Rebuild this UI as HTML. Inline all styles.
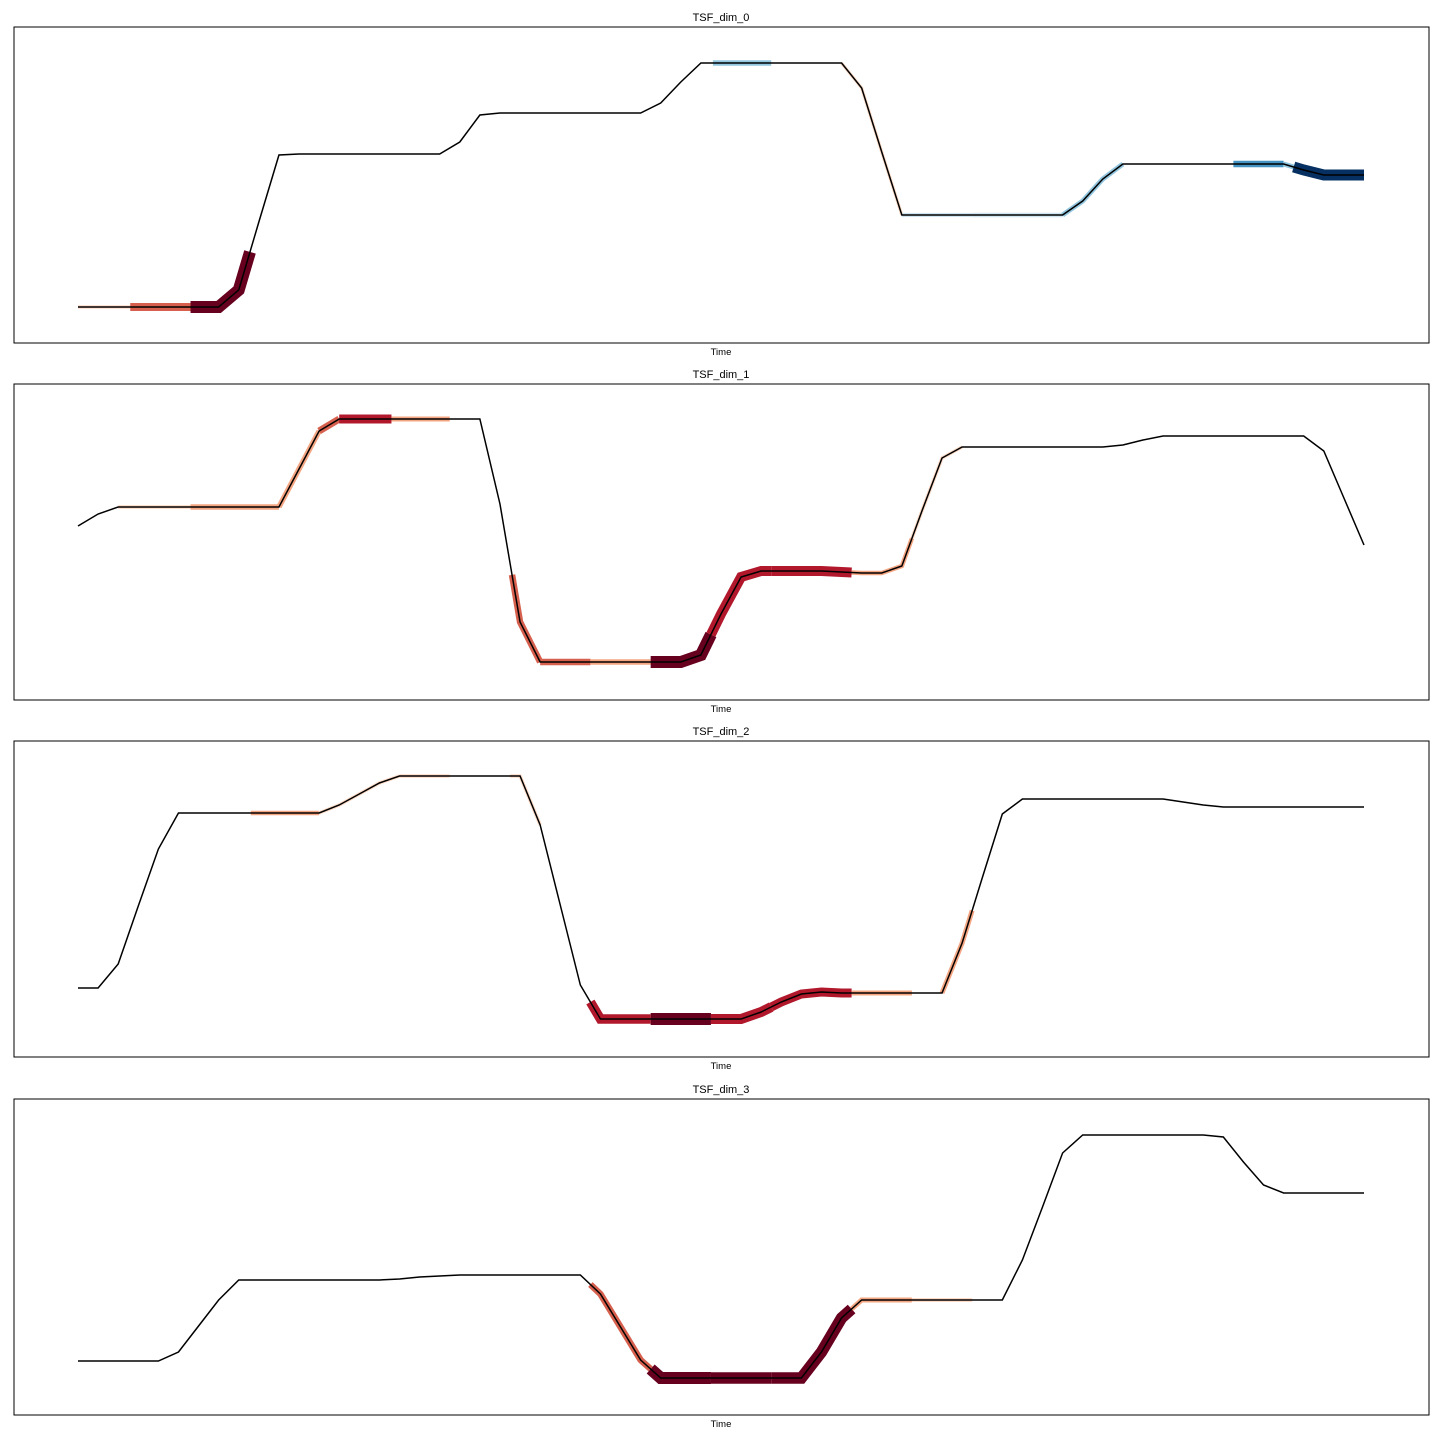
<!DOCTYPE html>
<html><head><meta charset="utf-8">
<style>
html,body{margin:0;padding:0;background:#fff;}
svg{display:block;font-family:"Liberation Sans","DejaVu Sans",sans-serif;}
</style></head>
<body>
<svg id="chart" width="1440" height="1440" viewBox="0 0 1440 1440" xmlns="http://www.w3.org/2000/svg"></svg>
<script>
const titles = ["TSF_dim_0","TSF_dim_1","TSF_dim_2","TSF_dim_3"];
const series0 = [36,36,36,36,36,36,36,36,53,121,188,189,189,189,189,189,189,189,189,201,228,230,230,230,230,230,230,230,230,240,261,280,280,280,280,280,280,280,280,255,191,128,128,128,128,128,128,128,128,128,142,164,179,179,179,179,179,179,179,179,179,173,168,168,168];
const series1 = [174,186,193,193,193,193,193,193,193,193,193,231,269,281,281,281,281,281,281,281,281,196,78,38,38,38,38,38,38,38,38,45,86,123,129,129,129,129,128,127,127,134,189,242,253,253,253,253,253,253,253,253,255,260,264,264,264,264,264,264,264,264,249,202,155];
const series2 = [69,69,93,151,208,244,244,244,244,244,244,244,244,252,263,274,281,281,281,281,281,281,281,232,152,72,38,38,38,38,38,38,38,38,45,55,63,65,64,64,64,64,64,64,114,179,243,258,258,258,258,258,258,258,258,255,252,250,250,250,250,250,250,250,250];
const series3 = [54,54,54,54,54,63,89,115,135,135,135,135,135,135,135,135,136,138,139,140,140,140,140,140,140,140,121,88,55,37,37,37,37,37,37,37,37,63,97,115,115,115,115,115,115,115,115,155,208,262,280,280,280,280,280,280,280,278,253,230,222,222,222,222,222];
// attribution segments: [startIndex, endIndex, weight] (weight>0 red, <0 blue)
const attr0 = [[0,2.6,0.15],[2.6,5.6,0.6],[5.6,8.56,1.0],[31.6,34.5,-0.35],[38,41,0.12],[41,44.5,-0.22],[44.5,49,-0.25],[49,52,-0.3],[57.5,60,-0.45],[60,60.5,-0.3],[60.5,64,-0.9]];
const attr1 = [[2,5.6,0.18],[5.6,10,0.35],[10,12,0.35],[12,13,0.5],[13,15.6,0.7],[15.6,18.5,0.3],[21.6,23,0.45],[23,25.5,0.45],[25.5,28.5,0.35],[28.5,31.5,1.0],[31.5,34.5,0.8],[34.5,38.5,0.8],[38.5,41.5,0.25],[41.5,44,0.15]];
const attr2 = [[8.6,12,0.25],[12,16,0.15],[16,18.5,0.15],[21.5,23,0.15],[25.5,28.5,0.75],[28.5,31.5,1.0],[31.5,34.5,0.8],[34.5,38.5,0.7],[38.5,41.5,0.3],[43,44.5,0.3]];
const attr3 = [[25.5,28.5,0.45],[28.5,31.5,1.0],[31.5,34.5,0.95],[34.5,38.5,0.95],[38.5,41.5,0.3],[41.5,44.5,0.2]];
const allSeries = [series0,series1,series2,series3];
const allAttr = [attr0,attr1,attr2,attr3];
const yDomain = [0,316];

const NS = "http://www.w3.org/2000/svg";
const svg = document.getElementById("chart");
const panelTops = [27,384,741,1099];
const axL = 14, axR = 1429, axH = 316;
const xStart = 78, xEnd = 1364;

function redColor(a){
  if(a>=0.9) return "#67001f";
  if(a>=0.65) return "#b2182b";
  if(a>=0.42) return "#d6604d";
  if(a>=0.22) return "#f4a582";
  return "#fddbc7";
}
function blueColor(a){
  if(a>=0.8) return "#053061";
  if(a>=0.6) return "#2166ac";
  if(a>=0.4) return "#4393c3";
  if(a>=0.28) return "#92c5de";
  return "#d1e5f0";
}

allSeries.forEach((data, p) => {
  const top = panelTops[p];
  const n = data.length;
  const xs = i => xStart + (xEnd - xStart) * i / (n - 1);
  const ys = v => top + axH - (v - yDomain[0]) / (yDomain[1] - yDomain[0]) * axH;
  const valAt = f => { const i = Math.floor(f), j = Math.min(i + 1, n - 1); const t = f - i; return data[i] * (1 - t) + data[j] * t; };

  const g = document.createElementNS(NS, "g");
  
  
  svg.appendChild(g);

  const title = document.createElementNS(NS, "text");
  
  
  title.setAttribute("x", 721); title.setAttribute("y", top - 6);
  title.setAttribute("text-anchor", "middle"); title.setAttribute("font-size", "11");
  title.textContent = titles[p];
  g.appendChild(title);

  const xl = document.createElementNS(NS, "text");
  
  
  xl.setAttribute("x", 721); xl.setAttribute("y", top + axH + 12);
  xl.setAttribute("text-anchor", "middle"); xl.setAttribute("font-size", "9.5");
  xl.textContent = "Time";
  g.appendChild(xl);

  allAttr[p].forEach(seg => {
    const [a, b, w] = seg;
    const pts = [[xs(a), ys(valAt(a))]];
    for (let i = Math.ceil(a); i < b; i++) if (i > a) pts.push([xs(i), ys(data[i])]);
    pts.push([xs(b), ys(valAt(b))]);
    const pl = document.createElementNS(NS, "polyline");
    
    
    pl.setAttribute("points", pts.map(q => q.join(",")).join(" "));
    pl.setAttribute("fill", "none");
    pl.setAttribute("stroke", w >= 0 ? redColor(w) : blueColor(-w));
    pl.setAttribute("stroke-width", 2 + 10 * Math.abs(w));
    pl.setAttribute("stroke-linejoin", "miter");
    pl.setAttribute("stroke-linecap", "butt");
    g.appendChild(pl);
  });

  const line = document.createElementNS(NS, "polyline");
  
  
  line.setAttribute("points", data.map((v, i) => xs(i) + "," + ys(v)).join(" "));
  line.setAttribute("fill", "none");
  line.setAttribute("stroke", "#000");
  line.setAttribute("stroke-width", "1.5");
  g.appendChild(line);

  const frame = document.createElementNS(NS, "rect");
  
  
  frame.setAttribute("x", axL); frame.setAttribute("y", top);
  frame.setAttribute("width", axR - axL); frame.setAttribute("height", axH);
  frame.setAttribute("fill", "none"); frame.setAttribute("stroke", "#000"); frame.setAttribute("stroke-width", "1");
  g.appendChild(frame);
});
</script>
</body></html>
